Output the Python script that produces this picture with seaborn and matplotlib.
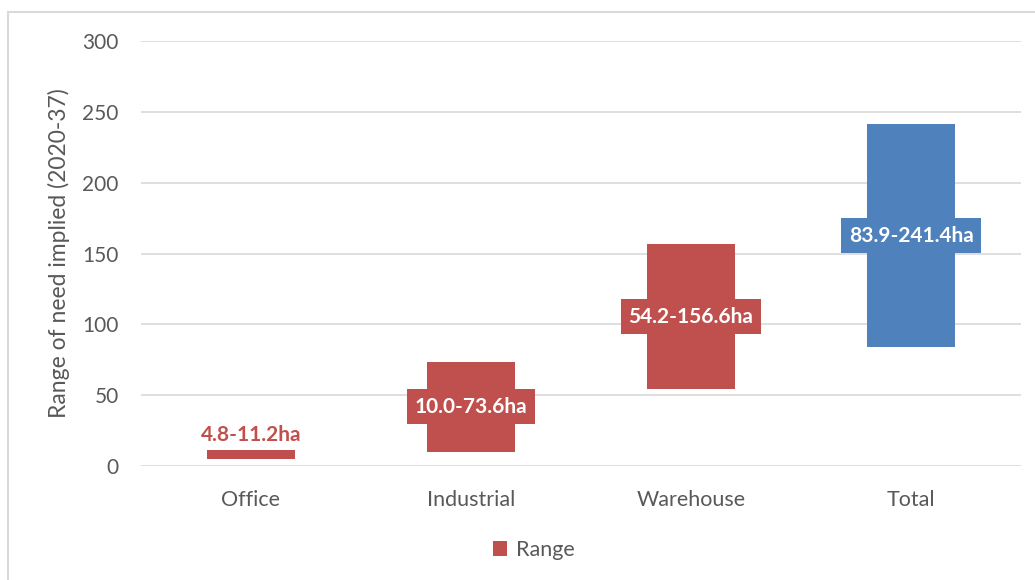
import matplotlib
matplotlib.use("Agg")
import matplotlib.pyplot as plt
import seaborn as sns
import pandas as pd
from matplotlib.patches import Patch, Rectangle

categories = ["Office", "Industrial", "Warehouse", "Total"]
low_values = [4.8, 10.0, 54.2, 83.9]
high_values = [11.2, 73.6, 156.6, 241.4]
labels = ["4.8-11.2ha", "10.0-73.6ha", "54.2-156.6ha", "83.9-241.4ha"]
yticks = [0, 50, 100, 150, 200, 250, 300]

RED = "#C0504D"
BLUE = "#4F81BD"
GRAY = "#595959"
GRID = "#D9D9D9"

sns.set_theme(style="white")
plt.rcParams["font.family"] = ["Lato", "DejaVu Sans"]

df = pd.DataFrame({
    "category": categories,
    "span": [h - l for h, l in zip(high_values, low_values)],
})

fig = plt.figure(figsize=(10.35, 5.8), dpi=100)
ax = fig.add_axes([141 / 1035, 1 - 466 / 580, 880 / 1035, 425 / 580])

sns.barplot(data=df, x="category", y="span", order=categories, color=RED,
            width=0.4, saturation=1, bottom=low_values, ax=ax, errorbar=None,
            linewidth=0)
bar_colors = [RED, RED, RED, BLUE]
for p, c in zip(ax.patches, bar_colors):
    p.set_facecolor(c)
    p.set_edgecolor("none")

ax.set_ylim(0, 300)
ax.set_xlim(-0.5, 3.5)
ax.set_yticks(yticks)
ax.set_yticklabels([str(t) for t in yticks])
ax.yaxis.grid(True, color=GRID, linewidth=1.2)
ax.set_axisbelow(True)
for s in ax.spines.values():
    s.set_visible(False)
ax.tick_params(axis="y", length=0, pad=16, labelsize=15, labelcolor=GRAY)
ax.tick_params(axis="x", length=0, pad=17, labelsize=15.5, labelcolor=GRAY)
ax.set_xlabel("")
ax.set_ylabel("Range of need implied (2020-37)", fontsize=16.5, color=GRAY, labelpad=9)

for i, (lo, hi, lab) in enumerate(zip(low_values, high_values, labels)):
    if i == 0:
        ax.annotate(lab, xy=(i, hi), xytext=(0, 4), textcoords="offset points",
                    ha="center", va="bottom", fontsize=15, fontweight="bold",
                    color=RED)
    else:
        ax.text(i, (lo + hi) / 2, lab, ha="center", va="center", fontsize=15,
                fontweight="bold", color="white",
                bbox=dict(boxstyle="square,pad=0.36", fc=bar_colors[i], ec="none"))

handle = Patch(facecolor=RED, edgecolor="none", label="Range")
fig.legend(handles=[handle], loc="center", bbox_to_anchor=(534 / 1035, 1 - 550 / 580),
           frameon=False, fontsize=15.5, labelcolor=GRAY, handlelength=0.65,
           handleheight=0.65, handletextpad=0.4)

fig.patches.append(Rectangle((8 / 1035, -0.05), 1.1, 1.05 - 12 / 580,
                             transform=fig.transFigure, fill=False,
                             edgecolor=GRID, linewidth=1.5))

fig.savefig("out.png", dpi=100)
